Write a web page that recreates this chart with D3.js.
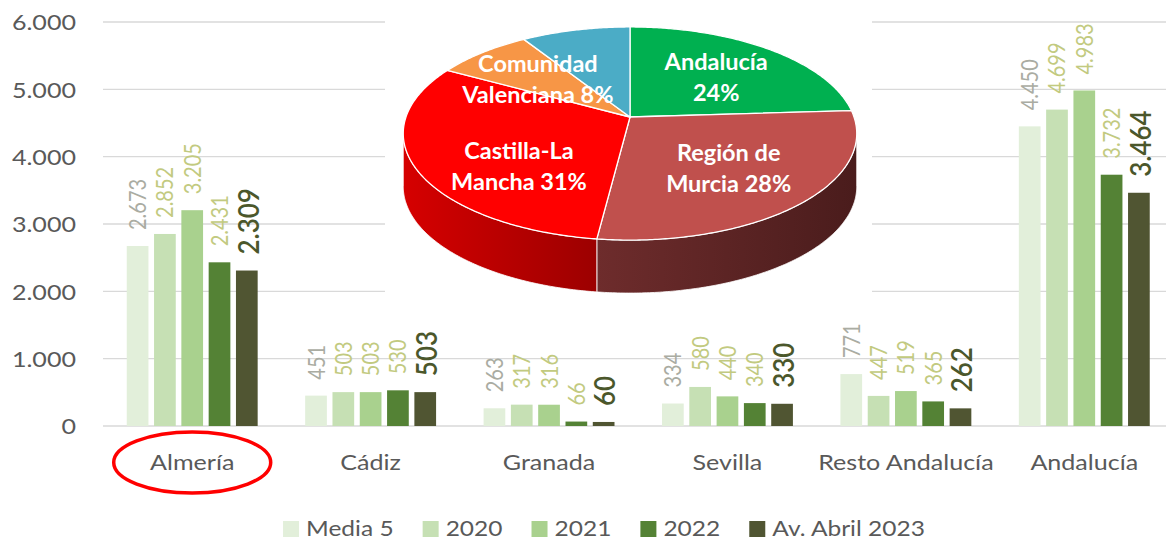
<!DOCTYPE html>
<html>
<head>
<meta charset="utf-8">
<script src="https://cdn.jsdelivr.net/npm/d3@7"></script>
<style>
  body { margin: 0; background: #fff; }
  svg { display: block; font-family: Lato, "Open Sans", sans-serif; }
</style>
</head>
<body>
<svg id="chart" width="1166" height="541"></svg>
<script>
// Bar chart data
const categories = ['Almería', 'Cádiz', 'Granada', 'Sevilla', 'Resto Andalucía', 'Andalucía'];
const seriesNames = ['Media 5', '2020', '2021', '2022', 'Av. Abril 2023'];
const media5 = [2673, 451, 263, 334, 771, 4450];
const y2020 = [2852, 503, 317, 580, 447, 4699];
const y2021 = [3205, 503, 316, 440, 519, 4983];
const y2022 = [2431, 530, 66, 340, 365, 3732];
const abril2023 = [2309, 503, 60, 330, 262, 3464];
const yTicks = [0, 1000, 2000, 3000, 4000, 5000, 6000];

// Pie data (share by region, %)
const pieNames = ['Andalucía', 'Región de Murcia', 'Castilla-La Mancha', 'Comunidad Valenciana', 'Otras'];
const pieValues = [24, 28, 31, 8, 9];
const pieLabelLines = [['Andalucía', '24%'], ['Región de', 'Murcia 28%'], ['Castilla-La', 'Mancha 31%'], ['Comunidad', 'Valenciana 8%'], []];

const seriesValues = [media5, y2020, y2021, y2022, abril2023];
const barColors = ['#e2efda', '#c6e0b4', '#a9d18e', '#548235', '#505532'];
const labelColors = ['#aaaca2', '#c2ca80', '#c2ca80', '#c2ca80', '#4b572b'];
const pieColors = ['#00b050', '#c0504d', '#ff0000', '#f79646', '#4bacc6'];
const sideColors = [null, ['#6e2c2c', '#4a1c1c'], ['#d60000', '#9c0000'], null, null];

const W = 1166, H = 541;
const SX = 1.14;            // horizontal stretch of the chart text
const TEXT = '#595959';

const svg = d3.select('#chart');
const fmt = d3.formatLocale({ decimal: ',', thousands: '.', grouping: [3], currency: ['', '€'] }).format(',d');

// Scales
const x0 = d3.scaleBand().domain(categories).range([103, 1173.5]).paddingInner(0).paddingOuter(0);
const x1 = d3.scaleBand().domain(seriesNames).range([0, x0.bandwidth()]).paddingInner(0.205).paddingOuter(0.87);
const y = d3.scaleLinear().domain([0, 6000]).range([426, 22]);

// Gridlines
svg.append('g').selectAll('line').data(yTicks).join('line')
  .attr('x1', 103).attr('x2', W)
  .attr('y1', d => y(d)).attr('y2', d => y(d))
  .attr('stroke', '#d9d9d9').attr('stroke-width', 1.3);

// Y tick labels
svg.append('g').selectAll('text').data(yTicks).join('text')
  .attr('transform', d => `translate(76,${y(d)}) scale(${SX},1)`)
  .attr('text-anchor', 'end')
  .attr('dominant-baseline', 'central')
  .attr('font-size', 22).attr('font-weight', 400)
  .attr('fill', TEXT)
  .text(d => fmt(d));

// White box behind the pie
svg.append('rect').attr('x', 385).attr('y', 0).attr('width', 487).attr('height', 300).attr('fill', '#fff');

// Bars + labels
const groups = svg.append('g').selectAll('g').data(categories).join('g')
  .attr('transform', d => `translate(${x0(d)},0)`);

seriesNames.forEach((s, si) => {
  groups.append('rect')
    .attr('x', x1(s))
    .attr('y', (d, ci) => y(seriesValues[si][ci]))
    .attr('width', x1.bandwidth())
    .attr('height', (d, ci) => y(0) - y(seriesValues[si][ci]))
    .attr('fill', barColors[si]);

  const big = si === 4;
  groups.append('text')
    .attr('transform', (d, ci) => {
      const cx = x1(s) + x1.bandwidth() / 2;
      const ty = y(seriesValues[si][ci]) - 16;
      return `translate(${cx},${ty}) scale(${SX},1) rotate(-90)`;
    })
    .attr('text-anchor', 'start')
    .attr('dominant-baseline', 'central')
    .attr('font-size', big ? 26 : 20)
    .attr('font-weight', big ? 600 : 400)
    .attr('fill', labelColors[si])
    .text((d, ci) => fmt(seriesValues[si][ci]));
});

// Category labels
svg.append('g').selectAll('text').data(categories).join('text')
  .attr('transform', d => `translate(${x0(d) + x0.bandwidth() / 2},462) scale(${SX},1)`)
  .attr('text-anchor', 'middle')
  .attr('dominant-baseline', 'central')
  .attr('font-size', 22).attr('font-weight', 400)
  .attr('fill', TEXT)
  .text(d => d);

// Red highlight around Almería
svg.append('ellipse')
  .attr('cx', x0('Almería') + x0.bandwidth() / 2).attr('cy', 462.5)
  .attr('rx', 78.5).attr('ry', 30.5)
  .attr('fill', 'none').attr('stroke', '#ff0000').attr('stroke-width', 3.5);

// Legend
const legend = svg.append('g');
const items = legend.selectAll('g').data(seriesNames).join('g');
items.append('rect').attr('width', 16).attr('height', 16)
  .attr('fill', (d, i) => barColors[i]);
items.append('text')
  .attr('font-size', 21.5).attr('font-weight', 400)
  .attr('fill', TEXT)
  .text(d => d);
const widths = [];
items.each(function () {
  widths.push(d3.select(this).select('text').node().getComputedTextLength() * SX);
});
const total = d3.sum(widths) + seriesNames.length * 23 + (seriesNames.length - 1) * 29;
let lx = 604 - total / 2;
items.each(function (d, i) {
  const g = d3.select(this);
  g.select('rect').attr('x', lx).attr('y', 521);
  g.select('text').attr('transform', `translate(${lx + 23},535.5) scale(${SX},1)`);
  lx += 23 + widths[i] + 29;
});

// 3D pie
const PCX = 630, PCY = 117, PSX = 224, PSY = 104, K = 0.155, DEPTH = 53;
function proj(a, f = 1) {
  const c = Math.cos(a), s = Math.sin(a);
  const d = 1 + K * f * c;
  return [PCX + PSX * f * s / d, PCY - PSY * f * c / d];
}
function rim(a0, a1, dy = 0) {
  const n = Math.max(2, Math.ceil((a1 - a0) / 0.01));
  return d3.range(n + 1).map(i => {
    const p = proj(a0 + (a1 - a0) * i / n);
    return [p[0], p[1] + dy];
  });
}
const arcs = d3.pie().sort(null).value(d => d)(pieValues);
const pie = svg.append('g');
const defs = svg.append('defs');

// Side walls (front half only)
const aL = Math.acos(-K), aR = 2 * Math.PI - aL;
arcs.forEach((a, i) => {
  const lo = Math.max(a.startAngle, aL), hi = Math.min(a.endAngle, aR);
  if (hi <= lo) return;
  const top = rim(lo, hi);
  const bottom = rim(lo, hi, DEPTH).reverse();
  const cols = sideColors[i] || [pieColors[i], pieColors[i]];
  const id = 'side' + i;
  const xs = top.map(p => p[0]);
  const gr = defs.append('linearGradient').attr('id', id)
    .attr('gradientUnits', 'userSpaceOnUse')
    .attr('x1', d3.min(xs)).attr('x2', d3.max(xs)).attr('y1', 0).attr('y2', 0);
  gr.append('stop').attr('offset', 0).attr('stop-color', cols[0]);
  gr.append('stop').attr('offset', 1).attr('stop-color', cols[1]);
  pie.append('path')
    .attr('d', 'M' + top.concat(bottom).map(p => p.join(',')).join('L') + 'Z')
    .attr('fill', `url(#${id})`)
    .attr('stroke', '#fff').attr('stroke-width', 1).attr('stroke-opacity', 0.8);
});

// Top face
arcs.forEach((a, i) => {
  const pts = [[PCX, PCY]].concat(rim(a.startAngle, a.endAngle));
  pie.append('path')
    .attr('d', 'M' + pts.map(p => p.join(',')).join('L') + 'Z')
    .attr('fill', pieColors[i])
    .attr('stroke', '#fff').attr('stroke-width', 1.3).attr('stroke-linejoin', 'round');
});

// Pie labels
arcs.forEach((a, i) => {
  const lines = pieLabelLines[i];
  if (!lines.length) return;
  const mid = (a.startAngle + a.endAngle) / 2;
  const [px, py] = proj(mid, 0.6);
  // lower-left labels sit a little further into the visible face
  const dx = Math.sin(mid) < 0 && Math.cos(mid) < 0 ? 14 : 0;
  const dy = Math.sin(mid) < 0 && Math.cos(mid) < 0 ? 19 : 2;
  const t = pie.append('text')
    .attr('text-anchor', 'middle')
    .attr('font-size', 23.5).attr('font-weight', 700)
    .attr('fill', '#fff');
  lines.forEach((ln, li) => {
    t.append('tspan')
      .attr('x', px + dx)
      .attr('y', py + dy + (li - (lines.length - 1) / 2) * 31)
      .attr('dominant-baseline', 'central')
      .text(ln);
  });
});
</script>
</body>
</html>
